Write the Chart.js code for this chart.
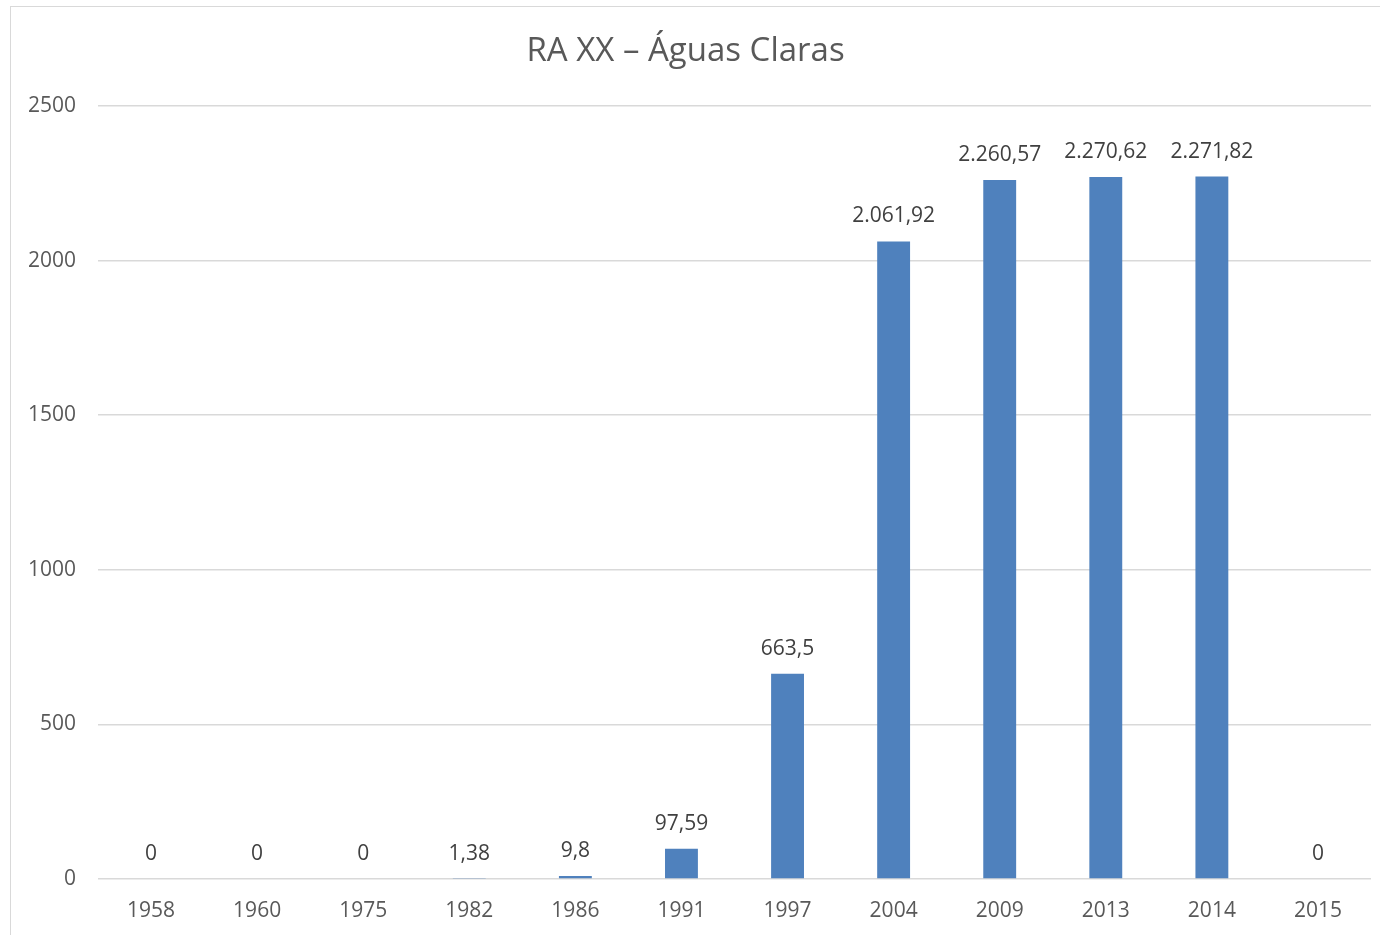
<!DOCTYPE html>
<html lang="pt-BR">
<head>
  <meta charset="UTF-8">
  <title>RA XX – Águas Claras</title>
  <script src="https://cdn.jsdelivr.net/npm/chart.js"></script>
  <style>
    body { margin: 0; background: #fff; }
    #wrap { width: 1380px; height: 935px; }
  </style>
</head>
<body>

  <div id="wrap"><canvas id="raChart"></canvas></div>

  <script>
    const years = ['1958', '1960', '1975', '1982', '1986', '1991', '1997', '2004', '2009', '2013', '2014', '2015'];
    const values = [0, 0, 0, 1.38, 9.8, 97.59, 663.5, 2061.92, 2260.57, 2270.62, 2271.82, 0];
    const yTicks = [0, 500, 1000, 1500, 2000, 2500];

    const FONT = '"Open Sans", sans-serif';

    // pt-BR number format: 2.061,92
    function fmt(v) {
      const parts = String(v).split('.');
      const intPart = parts[0].replace(/\B(?=(\d{3})+(?!\d))/g, '.');
      return parts[1] ? intPart + ',' + parts[1] : intPart;
    }

    const frame = {
      id: 'frame',
      beforeDraw(chart) {
        const c = chart.ctx;
        c.save();
        c.fillStyle = '#fff';
        c.fillRect(0, 0, chart.width, chart.height);
        c.strokeStyle = '#d9d9d9';
        c.lineWidth = 1;
        c.strokeRect(10.5, 6.5, chart.width + 20, chart.height + 20);
        c.restore();
      }
    };

    const barLabels = {
      id: 'barLabels',
      afterDatasetsDraw(chart) {
        const c = chart.ctx;
        const meta = chart.getDatasetMeta(0);
        c.save();
        c.font = '21px ' + FONT;
        c.fillStyle = '#404040';
        c.textAlign = 'center';
        c.textBaseline = 'middle';
        meta.data.forEach((bar, i) => {
          c.fillText(fmt(values[i]), bar.x, bar.y - 25);
        });
        c.restore();
      }
    };

    const ctx = document.getElementById('raChart').getContext('2d');
    new Chart(ctx, {
      type: 'bar',
      data: {
        labels: years,
        datasets: [{
          data: values,
          backgroundColor: '#4f81bd',
          barPercentage: 0.31,
          categoryPercentage: 1
        }]
      },
      options: {
        responsive: true,
        maintainAspectRatio: false,
        animation: false,
        layout: { padding: { left: 0, right: 9, top: 0, bottom: 0 } },
        plugins: {
          legend: { display: false },
          tooltip: { enabled: false },
          title: {
            display: true,
            text: 'RA XX – Águas Claras',
            color: '#595959',
            font: { family: FONT, size: 33, weight: 'normal', lineHeight: 1.2 },
            padding: { top: 32, bottom: 34.4 }
          }
        },
        scales: {
          x: {
            grid: { display: false, drawTicks: false },
            border: { display: false },
            ticks: { color: '#595959', font: { family: FONT, size: 21 }, padding: 19 },
            afterFit(scale) { scale.height = 56; }
          },
          y: {
            min: 0,
            max: 2500,
            afterBuildTicks(scale) { scale.ticks = yTicks.map(v => ({ value: v })); },
            grid: { color: '#d9d9d9', lineWidth: 1.5, drawTicks: false },
            border: { display: false },
            ticks: {
              color: '#595959',
              font: { family: FONT, size: 21 },
              padding: 22,
              callback: v => String(v)
            },
            afterFit(scale) { scale.width = 98; }
          }
        }
      },
      plugins: [frame, barLabels]
    });
  </script>

</body>
</html>
